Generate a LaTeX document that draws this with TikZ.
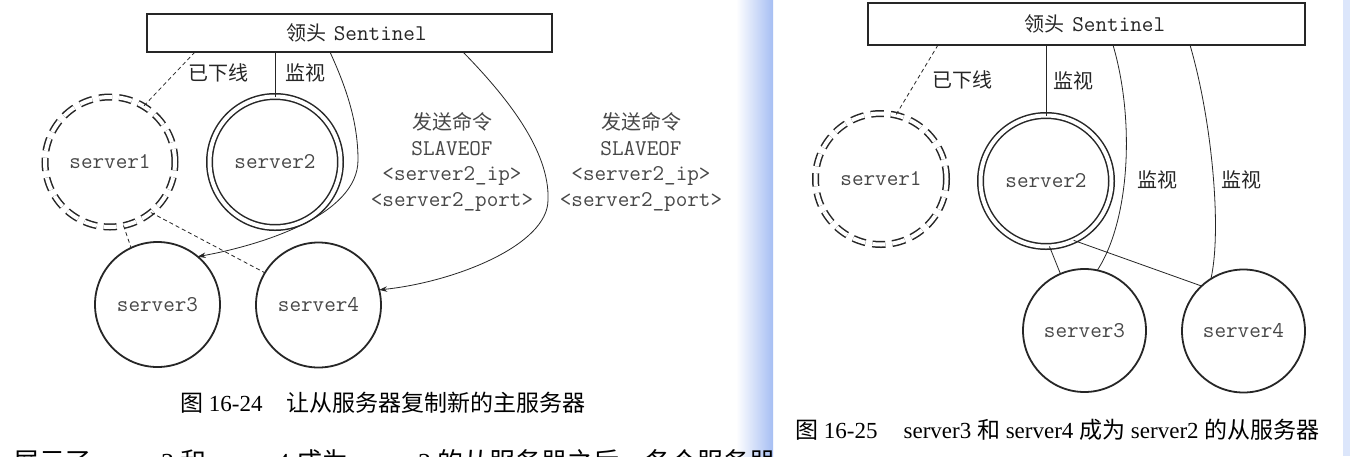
\documentclass[tikz,border=0pt]{standalone}
\usepackage{fontspec}
\setmainfont{Liberation Serif}
\newfontfamily\cjk{Noto Sans CJK SC}
\usetikzlibrary{arrows.meta}
\definecolor{stripblue}{HTML}{A6BEF3}
\definecolor{paleblue}{HTML}{DCE6FB}
\definecolor{ink}{HTML}{262626}
\begin{document}
\begin{tikzpicture}[x=1pt,y=-1pt,
  srv/.style={circle, draw=ink, line width=1.8pt, minimum size=125pt, inner sep=0pt, outer sep=0pt,
    text=ink!85, font=\ttfamily\fontsize{22.5}{26}\selectfont},
  srvdbl/.style={srv, double, double distance=4pt, line width=1.5pt, minimum size=131pt},
  srvoff/.style={srvdbl, dash pattern=on 13pt off 7pt, minimum size=130pt},
  sentbox/.style={draw=ink, line width=1.6pt, inner sep=0pt, outer sep=0pt, align=center,
    text=ink, font=\ttfamily\fontsize{22.5}{26}\selectfont},
  lbl/.style={inner sep=0pt, text=ink, font=\cjk\fontsize{20}{24}\selectfont},
  cmdtxt/.style={inner sep=0pt, align=center, text=ink!85, font=\ttfamily\fontsize{22.5}{25.5}\selectfont},
  figcaption/.style={inner sep=0pt, anchor=west, text=black, font=\fontsize{23}{28}\selectfont},
  conn/.style={draw=ink, line width=0.8pt},
  offline/.style={conn, dash pattern=on 4pt off 3pt},
  cmdarrow/.style={conn, -{Stealth[length=8pt,width=5.5pt]}}
]
\useasboundingbox (0,0) rectangle (1350,456);
\clip (0,0) rectangle (1350,456);
\fill[white] (0,0) rectangle (1350,456);
\shade[left color=white, right color=stripblue] (736,0) rectangle (773,456);
\fill[paleblue] (1343,0) rectangle (1350,456);

% ---------- figure 16-24 ----------
\node[sentbox, text width=405pt, minimum height=38pt] (sA) at (349.5,33) {\hspace*{14pt}{\cjk\fontsize{20}{24}\selectfont 领头} Sentinel};
\node[srvoff] (a1) at (110,162) {server1};
\node[srvdbl] (a2) at (275,162) {server2};
\node[srv] (a3) at (157.5,304.5) {server3};
\node[srv] (a4) at (318.5,305) {server4};

\draw[offline] ([xshift=48pt]sA.south west) -- (a1.59);
\draw[conn] (a2.north |- sA.south) -- (a2.north);
\draw[cmdarrow] ([xshift=183pt]sA.south west) .. controls (345,85) and (358,120) .. (358,160)
   .. controls (358,215) and (262,245) .. (a3.50);
\draw[cmdarrow] ([xshift=316pt]sA.south west) .. controls (505,95) and (550,150) .. (548,200)
   .. controls (548,245) and (455,282) .. (a4.14);
\draw[offline] (a1.-78) -- (a3.115);
\draw[offline] (a1.-51) -- (a4.149);

\node[lbl] (tA1) at (218,73) {已下线};
\node[lbl] (tA2) at (305,73) {监视};
\node[cmdtxt] (cA1) at (452,162) {{\cjk\fontsize{20}{24}\selectfont 发送命令}\\SLAVEOF\\<server2\_ip>\\<server2\_port>};
\node[cmdtxt] (cA2) at (641,162) {{\cjk\fontsize{20}{24}\selectfont 发送命令}\\SLAVEOF\\<server2\_ip>\\<server2\_port>};

\node[figcaption] (capA) at (180,403) {{\cjk 图} 16-24\hspace{24pt}{\cjk 让从服务器复制新的主服务器}};

% ---------- cut-off body text ----------
\begin{scope}
\clip (0,430) rectangle (773,456);
\node[inner sep=0pt, anchor=base west, font=\fontsize{26}{30}\selectfont] (body) at (13,471)
  {{\cjk 展示了} server3 {\cjk 和} server4 {\cjk 成为} server2 {\cjk 的从服务器之后，各个服务器}};
\end{scope}

% ---------- figure 16-25 ----------
\node[sentbox, text width=437pt, minimum height=42pt] (sB) at (1086.5,24) {\hspace*{17pt}{\cjk\fontsize{20}{24}\selectfont 领头} Sentinel};
\node[srvoff, minimum size=131pt] (b1) at (881,179) {server1};
\node[srvdbl] (b2) at (1046,181) {server2};
\node[srv, minimum size=123pt] (b3) at (1084.5,330.5) {server3};
\node[srv, minimum size=123pt] (b4) at (1243.5,331) {server4};

\draw[offline] ([xshift=70pt]sB.south west) -- (b1.77);
\draw[conn] (b2.north |- sB.south) -- (b2.north);
\draw[conn] ([xshift=245pt]sB.south west) .. controls (1135,120) and (1130,220) .. (b3.78);
\draw[conn] ([xshift=322pt]sB.south west) .. controls (1212,120) and (1222,230) .. (b4.122);
\draw[conn] (b2.-87) -- (b3.113);
\draw[conn] (b2.-65) -- (b4.133);

\node[lbl] (tB1) at (962,80) {已下线};
\node[lbl] (tB2) at (1073,81) {监视};
\node[lbl] (tB3) at (1157,180) {监视};
\node[lbl] (tB4) at (1241,180) {监视};

\node[figcaption] (capB) at (795,430) {{\cjk 图} 16-25\hspace{26pt}server3 {\cjk 和} server4 {\cjk 成为} server2 {\cjk 的从服务器}};
\end{tikzpicture}
\end{document}
